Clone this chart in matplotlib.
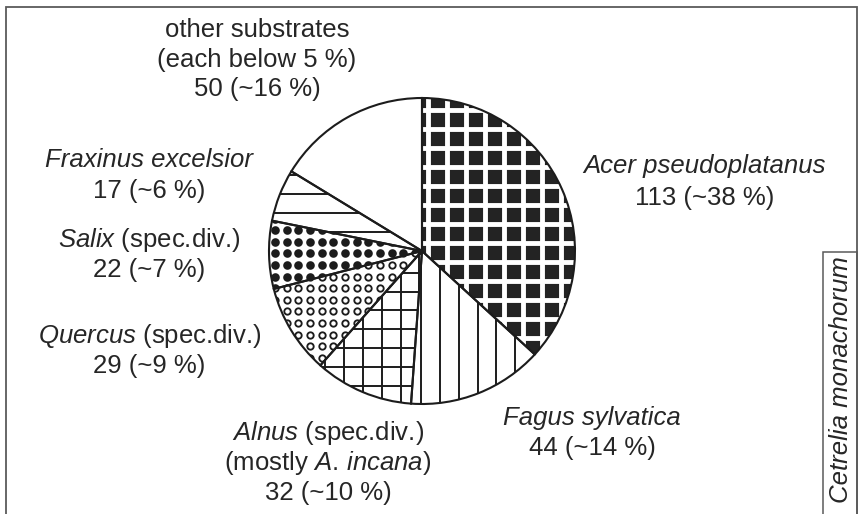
import numpy as np
import matplotlib
matplotlib.use('Agg')
import matplotlib.pyplot as plt
from matplotlib.collections import LineCollection
from matplotlib.patches import Rectangle

plt.rcParams['font.family'] = ['Liberation Sans', 'DejaVu Sans']
plt.rcParams['mathtext.fontset'] = 'custom'
plt.rcParams['mathtext.rm'] = 'Liberation Sans'
plt.rcParams['mathtext.it'] = 'Liberation Sans:italic'

# ---------------- data ----------------
substrates = ["Acer pseudoplatanus", "Fagus sylvatica", "Alnus (spec.div.)",
              "Quercus (spec.div.)", "Salix (spec.div.)", "Fraxinus excelsior",
              "other substrates"]
counts = [113, 44, 32, 29, 22, 17, 50]
percent_labels = ["~38 %", "~14 %", "~10 %", "~9 %", "~7 %", "~6 %", "~16 %"]
species = "Cetrelia monachorum"

# ---------------- layout ----------------
W, H = 859, 514
fig = plt.figure(figsize=(W / 100, H / 100), dpi=100)
ax = fig.add_axes([0, 0, 1, 1])


def Y(y):
    return H - y


cx, cy, R = 422, Y(251), 153
INK = '#1c1c1c'
TXT = '#262626'
face_colors = ['#232323', 'white', 'white', 'white', 'white', 'white', 'white']

wedges, _ = ax.pie(counts, startangle=90, counterclock=False, center=(cx, cy),
                   radius=R, colors=face_colors,
                   wedgeprops=dict(linewidth=0, zorder=1), frame=False)

x0, x1 = cx - R - 30, cx + R + 30
y0, y1 = cy - R - 30, cy + R + 30


def vlines(xs, wedge, color, lw):
    segs = [[(x, y0), (x, y1)] for x in xs]
    lc = LineCollection(segs, colors=color, linewidths=lw, zorder=2)
    ax.add_collection(lc)
    lc.set_clip_path(wedge)


def hlines(ys_down, wedge, color, lw):
    segs = [[(x0, Y(y)), (x1, Y(y))] for y in ys_down]
    lc = LineCollection(segs, colors=color, linewidths=lw, zorder=2)
    ax.add_collection(lc)
    lc.set_clip_path(wedge)


def dots(wedge, filled):
    gx = np.arange(275 - 11.67 * 20, 275 + 11.67 * 30, 11.67)
    gy = np.arange(241.7 - 11.6 * 20, 241.7 + 11.6 * 30, 11.6)
    X, Yd = np.meshgrid(gx, gy)
    if filled:
        ln, = ax.plot(X.ravel(), Y(Yd.ravel()), 'o', ms=6.2, mfc=INK, mec='none',
                      zorder=2)
    else:
        ln, = ax.plot(X.ravel(), Y(Yd.ravel()), 'o', ms=4.6, mfc='white', mec=INK,
                      mew=1.35, zorder=2)
    ln.set_clip_path(wedge)


# Acer: dark with white grid
vlines(np.arange(428.3 - 19 * 10, 428.3 + 19 * 12, 19), wedges[0], 'white', 3.5)
hlines(np.arange(110 - 19 * 5, 110 + 19 * 20, 19), wedges[0], 'white', 3.5)
# Fagus: vertical lines
vlines(np.arange(440 - 18.8 * 10, 440 + 18.8 * 12, 18.8), wedges[1], INK, 1.4)
# Alnus: grid
vlines(np.arange(363 - 18.8 * 10, 363 + 18.8 * 12, 18.8), wedges[2], INK, 1.4)
hlines(np.arange(291.7 - 18.8 * 12, 291.7 + 18.8 * 10, 18.8), wedges[2], INK, 1.4)
# Quercus: open circles
dots(wedges[3], False)
# Salix: filled dots
dots(wedges[4], True)
# Fraxinus: horizontal lines
hlines(np.arange(175 - 19 * 6, 175 + 19 * 14, 19), wedges[5], INK, 1.4)

# outlines
ax.pie(counts, startangle=90, counterclock=False, center=(cx, cy), radius=R,
       wedgeprops=dict(fill=False, edgecolor=INK, linewidth=1.5, zorder=3),
       frame=False)

ax.set_xlim(0, W)
ax.set_ylim(0, H)
ax.axis('off')

# frame and species box
ax.add_patch(Rectangle((6, -20), 851, Y(7) + 20, fill=False, edgecolor='#5a5a5a',
                       linewidth=1.3, zorder=4))
ax.add_patch(Rectangle((823, -20), 34, Y(252) + 20, fill=False, edgecolor='#5a5a5a',
                       linewidth=1.1, zorder=4))
ax.text(841, Y(380), species, rotation=90, fontsize=18.5, style='italic',
        color=TXT, ha='center', va='center')

FS = 18.5


def T(x, y, s, italic=False):
    ax.text(x, Y(y), s, fontsize=FS, color=TXT, ha='center', va='baseline',
            style='italic' if italic else 'normal')


def count_line(i):
    return f"{counts[i]} ({percent_labels[i]})"


# other substrates
T(257, 37, substrates[6])
T(257, 67, "(each below 5 %)")
T(257, 96, count_line(6))
# Acer
T(705, 173, substrates[0], italic=True)
T(705, 205, count_line(0))
# Fraxinus
T(149, 167, substrates[5], italic=True)
T(149, 198, count_line(5))
# Salix
T(149, 247, r"$\mathit{Salix}$ (spec.div.)")
T(149, 277, count_line(4))
# Quercus
T(150, 343, r"$\mathit{Quercus}$ (spec.div.)")
T(149, 373, count_line(3))
# Alnus
T(328, 440, r"$\mathit{Alnus}$ (spec.div.)")
T(328, 470, r"(mostly $\mathit{A.\,incana}$)")
T(328, 500, count_line(2))
# Fagus
T(592, 425, substrates[1], italic=True)
T(592, 455, count_line(1))

fig.savefig('out.png', dpi=100)
